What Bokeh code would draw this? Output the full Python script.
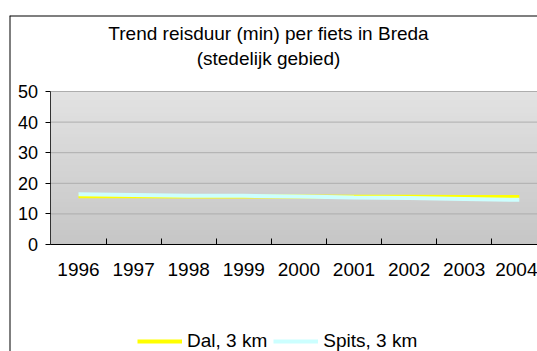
from bokeh.plotting import figure
from bokeh.models import (Range1d, FixedTicker, Label, Legend, LegendItem,
                          Span, LinearAxis)
from bokeh.embed import file_html
from bokeh.resources import INLINE

# Travel time (minutes) by bicycle, urban area of Breda
years = [1996, 1997, 1998, 1999, 2000, 2001, 2002, 2003, 2004]
dal_3km = [15.8, 15.8, 15.7, 15.7, 15.7, 15.6, 15.6, 15.5, 15.5]
spits_3km = [16.4, 16.2, 15.9, 15.9, 15.7, 15.4, 15.2, 14.9, 14.6]
y_ticks = [0, 10, 20, 30, 40, 50]

FONT = "Liberation Sans"
X0, X1 = years[0] - 0.5, years[-1] + 0.5      # category band edges
Y0, Y1 = y_ticks[0], y_ticks[-1]

# the frame covers the whole chart box; the plot area sits inside it
p = figure(width=537, height=351, output_backend="svg", toolbar_location=None,
           x_range=Range1d(1994.748, 2004.33),
           y_range=Range1d(-34.97, 74.84),
           x_axis_location=None, y_axis_location=None,
           min_border_left=9, min_border_right=0,
           min_border_top=15, min_border_bottom=0)
p.outline_line_color = None
p.background_fill_color = "white"
p.border_fill_color = "white"
p.xgrid.grid_line_color = None
p.ygrid.grid_line_color = None

# vertical grey gradient behind the data (bands overlap to avoid seams)
steps = 50
band = (Y1 - Y0) / steps
for i in range(steps):
    t = i / (steps - 1)
    c = int(round(0xc6 + (0xe2 - 0xc6) * t))
    col = "#%02x%02x%02x" % (c, c, c)
    top = Y0 + band * (i + 1) + (band * 0.6 if i < steps - 1 else 0)
    p.quad(left=X0, right=X1, bottom=Y0 + band * i, top=top,
           fill_color=col, line_color=None)

# horizontal gridlines across the plot area only
p.segment(x0=X0, x1=X1, y0=y_ticks[1:], y1=y_ticks[1:],
          line_color="#adadad", line_width=1)

# axes pinned to the plot area
xa = LinearAxis(fixed_location=Y0, bounds=(X0, X1))
xa.ticker = FixedTicker(ticks=years, minor_ticks=[y - 0.5 for y in years] + [X1])
xa.major_tick_in = 0
xa.major_tick_out = 0
xa.minor_tick_in = 6
xa.minor_tick_out = 0
xa.minor_tick_line_color = "black"
xa.axis_line_color = "black"
xa.major_label_standoff = 19
xa.major_label_text_font = FONT
xa.major_label_text_font_size = "19px"
xa.major_label_text_color = "black"
p.add_layout(xa, "below")

ya = LinearAxis(fixed_location=X0, bounds=(Y0, Y1))
ya.ticker = FixedTicker(ticks=y_ticks)
ya.major_tick_in = 0
ya.major_tick_out = 5
ya.major_tick_line_color = "black"
ya.minor_tick_line_color = None
ya.axis_line_color = "#333333"
ya.major_label_standoff = 8
ya.major_label_text_font = FONT
ya.major_label_text_font_size = "18px"
ya.major_label_text_color = "black"
p.add_layout(ya, "left")

r_dal = p.line(years, dal_3km, line_color="#ffff00", line_width=4)
r_spits = p.line(years, spits_3km, line_color="#ccffff", line_width=4)

# two-line title
for txt, ty in [("Trend reisduur (min) per fiets in Breda", 318),
                ("(stedelijk gebied)", 293)]:
    p.add_layout(Label(x=259, y=ty, x_units="screen", y_units="screen",
                       text=txt, text_font=FONT, text_font_size="19px",
                       text_align="center", text_baseline="middle",
                       text_color="black"))

legend = Legend(items=[LegendItem(label="Dal, 3 km", renderers=[r_dal]),
                       LegendItem(label="Spits, 3 km", renderers=[r_spits])],
                orientation="horizontal", location=(128, -1),
                glyph_width=45, glyph_height=20, label_height=20,
                label_standoff=5, spacing=6, padding=0, margin=0,
                border_line_color=None, background_fill_alpha=0,
                label_text_font=FONT, label_text_font_size="19px",
                label_text_color="black")
p.add_layout(legend, "center")

# chart box edges (left and top; the rest lies beyond the canvas)
p.add_layout(Span(location=p.x_range.start, dimension="height",
                  line_color="black", line_width=2))
p.add_layout(Span(location=p.y_range.end, dimension="width",
                  line_color="black", line_width=2))

open("out.html", "w").write(file_html(p, INLINE))
